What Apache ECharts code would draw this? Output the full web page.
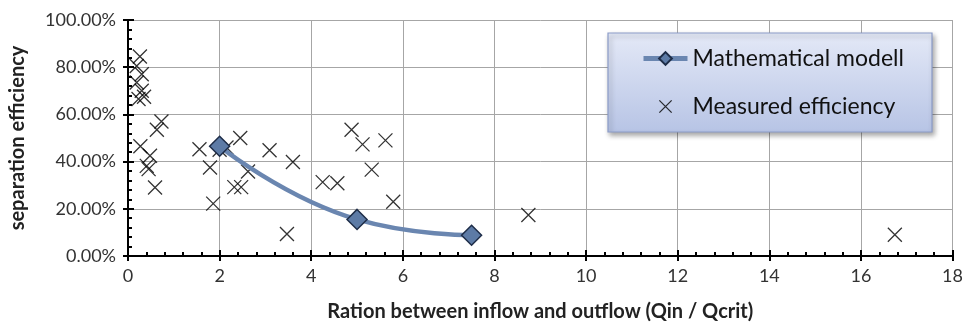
<!DOCTYPE html>
<html>
<head>
<meta charset="utf-8">
<script src="https://cdn.jsdelivr.net/npm/echarts@6/dist/echarts.min.js"></script>
<style>html,body{margin:0;padding:0;background:#fff;}#c{width:966px;height:327px;}</style>
</head>
<body>
<div id="c"></div>
<script>
// Mathematical model (x = Qin/Qcrit, y = efficiency %)
const modelX = [2.0, 5.0, 7.5];
const modelY = [46.5, 15.5, 8.8];
// Measured efficiency
const measuredX = [0.26, 0.19, 0.30, 0.19, 0.30, 0.23, 0.35,
  0.73, 0.63, 0.27, 0.48, 0.41, 0.45, 0.59,
  1.56, 1.79, 1.86, 2.00, 2.15, 2.45, 2.62, 2.32, 2.47, 3.09, 3.60, 3.47,
  4.25, 4.57, 4.88, 5.12, 5.32, 5.62, 5.79, 8.74, 16.74];
const measuredY = [84.5, 80.5, 77.0, 73.5, 70.0, 66.5, 67.5,
  57.0, 53.5, 46.5, 42.5, 38.2, 36.8, 29.0,
  45.2, 37.5, 22.2, 45.0, 46.0, 50.0, 35.8, 29.2, 29.2, 44.8, 39.8, 9.3,
  31.3, 30.8, 53.5, 47.3, 36.6, 49.0, 23.0, 17.4, 9.0];
const xTicks = [0, 2, 4, 6, 8, 10, 12, 14, 16, 18];
const yTicks = [0, 20, 40, 60, 80, 100];

const font = 'Lato, "Open Sans", sans-serif';
const chart = echarts.init(document.getElementById('c'), null, {renderer: 'canvas'});
const xMin = xTicks[0], xMax = xTicks[xTicks.length - 1], xInt = xTicks[1] - xTicks[0];
const yMin = yTicks[0], yMax = yTicks[yTicks.length - 1], yInt = yTicks[1] - yTicks[0];
const X_PATH = 'path://M0,0L10,10M10,0L0,10';
const X_LEGEND = 'path://M-1.5,-1.5M11.5,11.5M0,0L10,10M10,0L0,10';

chart.setOption({
  animation: false,
  backgroundColor: '#ffffff',
  grid: {left: 124.5, right: 13, top: 20, bottom: 67},
  graphic: [{
    type: 'rect', z: 5,
    shape: {x: 608, y: 33, width: 324, height: 99},
    style: {
      fill: new echarts.graphic.LinearGradient(0, 0, 0, 1, [
        {offset: 0, color: '#e4e9f7'}, {offset: 1, color: '#b7c4e5'}]),
      stroke: '#8b9cc8', lineWidth: 1.2,
      shadowBlur: 5, shadowOffsetX: 2, shadowOffsetY: 3, shadowColor: 'rgba(0,0,0,0.35)'
    }
  }],
  legend: {
    z: 10,
    orient: 'vertical', left: 636, top: 42,
    itemWidth: 44, itemHeight: 16, itemGap: 25,
    textStyle: {fontFamily: font, fontSize: 23, color: '#111'},
    data: [
      {name: 'Mathematical modell', lineStyle: {width: 5, color: '#6a86b0'}},
      {name: 'Measured efficiency', icon: X_LEGEND, itemStyle: {color: 'none', borderColor: '#000', borderWidth: 1.3}}
    ]
  },
  xAxis: [{
    type: 'value', min: xMin, max: xMax, interval: xInt,
    name: 'Ration between inflow and outflow (Qin / Qcrit)',
    nameLocation: 'middle', nameGap: 46,
    nameTextStyle: {fontFamily: font, fontSize: 20, fontWeight: 'bold', color: '#222'},
    axisLine: {show: true, onZero: false, lineStyle: {color: '#000', width: 2}},
    axisTick: {show: true, inside: true, length: 6, lineStyle: {color: '#000', width: 2}},
    minorTick: {show: true, splitNumber: 5, length: 4, lineStyle: {color: '#000', width: 2}},
    axisLabel: {fontFamily: font, fontSize: 18, color: '#333', margin: 11},
    splitLine: {show: true, lineStyle: {color: '#a6a6a6', width: 1}}
  }, {
    type: 'value', min: xMin, max: xMax, interval: xInt, position: 'bottom',
    axisLine: {show: false, onZero: false},
    axisTick: {show: true, inside: false, length: 5, lineStyle: {color: '#000', width: 2}},
    axisLabel: {show: false}, splitLine: {show: false}
  }],
  yAxis: [{
    type: 'value', min: yMin, max: yMax, interval: yInt,
    name: 'separation efficiency',
    nameLocation: 'middle', nameGap: 100, nameRotate: 90,
    nameTextStyle: {fontFamily: font, fontSize: 20, fontWeight: 'bold', color: '#222'},
    axisLine: {show: true, onZero: false, lineStyle: {color: '#000', width: 2}},
    axisTick: {show: true, inside: true, length: 6, lineStyle: {color: '#000', width: 2}},
    minorTick: {show: true, splitNumber: 5, length: 4, lineStyle: {color: '#000', width: 2}},
    axisLabel: {fontFamily: font, fontSize: 18, color: '#333', margin: 12,
      formatter: v => v.toFixed(2) + '%'},
    splitLine: {show: true, lineStyle: {color: '#a6a6a6', width: 1}}
  }, {
    type: 'value', min: yMin, max: yMax, interval: yInt, position: 'left',
    axisLine: {show: false, onZero: false},
    axisTick: {show: true, inside: false, length: 5, lineStyle: {color: '#000', width: 2}},
    axisLabel: {show: false}, splitLine: {show: false}
  }],
  series: [{
    name: 'Measured efficiency', type: 'scatter',
    symbol: X_PATH, symbolSize: 14,
    itemStyle: {color: 'none', borderColor: '#000', borderWidth: 1.3},
    data: measuredX.map((x, i) => [x, measuredY[i]]),
    z: 2
  }, {
    name: 'Mathematical modell', type: 'line', smooth: 0.5,
    symbol: 'diamond', symbolSize: 20,
    lineStyle: {color: '#6a86b0', width: 4.5},
    itemStyle: {color: '#5d7ba6', borderColor: '#1e2d48', borderWidth: 1.5},
    data: modelX.map((x, i) => [x, modelY[i]]),
    z: 3
  }]
});
</script>
</body>
</html>
